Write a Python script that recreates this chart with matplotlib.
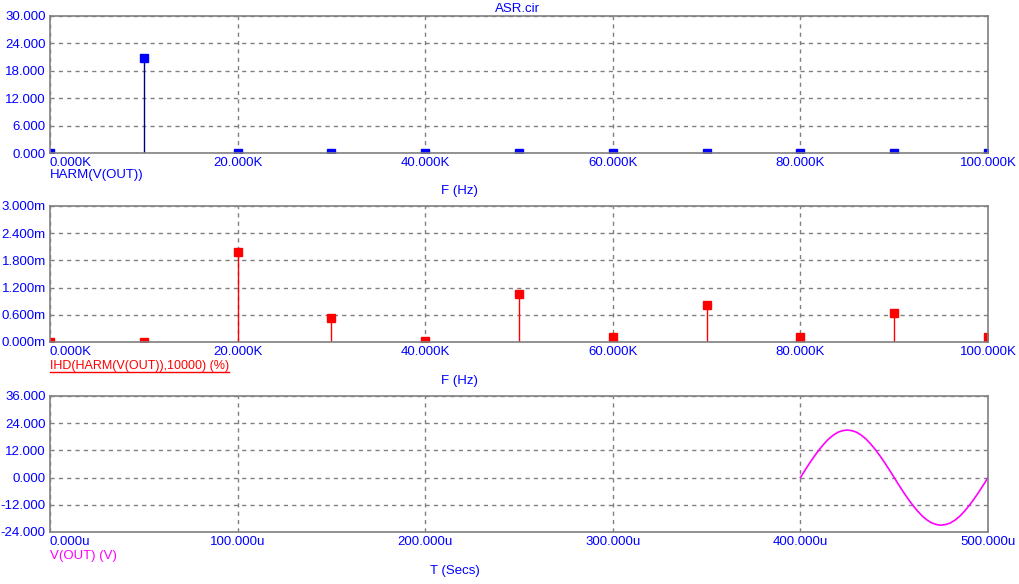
import numpy as np
import matplotlib
matplotlib.use('Agg')
import matplotlib.pyplot as plt
import matplotlib.ticker as ticker
from matplotlib.lines import Line2D

plt.rcParams['font.family'] = ['Liberation Sans', 'DejaVu Sans']
plt.rcParams['font.size'] = 9.5

# harmonic frequencies (Hz)
freq = [0, 10000, 20000, 30000, 40000, 50000, 60000, 70000, 80000, 90000, 100000]
# HARM(V(OUT))
harm = [0.0, 20.8, 0.0, 0.0, 0.0, 0.0, 0.0, 0.0, 0.0, 0.0, 0.0]
# IHD(HARM(V(OUT)),10000) (%)
ihd = [0.0, 0.0, 1.985e-3, 0.53e-3, 0.02e-3, 1.06e-3, 0.11e-3, 0.82e-3, 0.11e-3, 0.64e-3, 0.11e-3]

t_us = [400.0, 402.5, 405.0, 407.5, 410.0, 412.5, 415.0, 417.5, 420.0, 422.5,
        425.0, 427.5, 430.0, 432.5, 435.0, 437.5, 440.0, 442.5, 445.0, 447.5,
        450.0, 452.5, 455.0, 457.5, 460.0, 462.5, 465.0, 467.5, 470.0, 472.5,
        475.0, 477.5, 480.0, 482.5, 485.0, 487.5, 490.0, 492.5, 495.0, 497.5, 500.0]
vout = [0.0, 3.3, 6.5, 9.5, 12.3, 14.8, 17.0, 18.7, 20.0, 20.7,
        21.0, 20.7, 20.0, 18.7, 17.0, 14.8, 12.3, 9.5, 6.5, 3.3,
        0.0, -3.3, -6.5, -9.5, -12.3, -14.8, -17.0, -18.7, -20.0, -20.7,
        -21.0, -20.7, -20.0, -18.7, -17.0, -14.8, -12.3, -9.5, -6.5, -3.3, 0.0]

W, H = 1020, 584
fig = plt.figure(figsize=(W / 100, H / 100), dpi=100)
fig.patch.set_facecolor('white')

blue = '#0000ff'
gray = '#808080'


def px(x, y):
    return x / W, 1 - y / H


def make_ax(top, bottom):
    ax = fig.add_axes([50 / W, 1 - bottom / H, 938 / W, (bottom - top) / H])
    for s in ax.spines.values():
        s.set_color(gray)
        s.set_linewidth(1.2)
    ax.grid(True, color=gray, linestyle=(0, (3, 3)), linewidth=1)
    ax.tick_params(length=0, colors=blue, labelsize=9.5, pad=3)
    return ax


def fix_first_xlabel(ax):
    lab = ax.get_xticklabels()
    lab[0].set_horizontalalignment('left')


# top panel
ax1 = make_ax(16, 153)
ax1.vlines(freq, 0, harm, color='#000080', linewidth=1)
ax1.plot(freq, harm, 's', color=blue, markersize=5.5, clip_on=True)
ax1.set_xlim(0, 100000)
ax1.set_ylim(0, 30)
ax1.set_xticks([0, 20000, 40000, 60000, 80000, 100000])
ax1.set_yticks([0, 6, 12, 18, 24, 30])
ax1.xaxis.set_major_formatter(ticker.FuncFormatter(lambda v, p: '%.3fK' % (v / 1000)))
ax1.yaxis.set_major_formatter(ticker.FormatStrFormatter('%.3f'))
fix_first_xlabel(ax1)

# middle panel
ax2 = make_ax(206, 342)
ax2.vlines(freq, 0, ihd, color='red', linewidth=1)
ax2.plot(freq, ihd, 's', color='red', markersize=5.5, clip_on=True)
ax2.set_xlim(0, 100000)
ax2.set_ylim(0, 3e-3)
ax2.set_xticks([0, 20000, 40000, 60000, 80000, 100000])
ax2.set_yticks([0, 0.6e-3, 1.2e-3, 1.8e-3, 2.4e-3, 3e-3])
ax2.xaxis.set_major_formatter(ticker.FuncFormatter(lambda v, p: '%.3fK' % (v / 1000)))
ax2.yaxis.set_major_formatter(ticker.FuncFormatter(lambda v, p: '%.3fm' % (v * 1000)))
fix_first_xlabel(ax2)

# bottom panel
ax3 = make_ax(396, 532)
ax3.plot(t_us, vout, color='#ff00ff', linewidth=1.2)
ax3.set_xlim(0, 500)
ax3.set_ylim(-24, 36)
ax3.set_xticks([0, 100, 200, 300, 400, 500])
ax3.set_yticks([-24, -12, 0, 12, 24, 36])
ax3.xaxis.set_major_formatter(ticker.FuncFormatter(lambda v, p: '%.3fu' % v))
ax3.yaxis.set_major_formatter(ticker.FormatStrFormatter('%.3f'))
fix_first_xlabel(ax3)

# texts
fig.text(*px(517, 9), 'ASR.cir', color=blue, ha='center', va='center', fontsize=9.5)
fig.text(*px(50, 175), 'HARM(V(OUT))', color=blue, ha='left', va='center', fontsize=9.5)
fig.text(*px(459, 191), 'F (Hz)', color=blue, ha='center', va='center', fontsize=9.5)
red_lab = fig.text(*px(50, 366), 'IHD(HARM(V(OUT)),10000) (%)', color='red',
                   ha='left', va='center', fontsize=9)
fig.text(*px(459, 381), 'F (Hz)', color=blue, ha='center', va='center', fontsize=9.5)
fig.text(*px(50, 556), 'V(OUT) (V)', color='#ff00ff', ha='left', va='center', fontsize=9.5)
fig.text(*px(455, 571), 'T (Secs)', color=blue, ha='center', va='center', fontsize=9.5)

# underline for the red label
fig.canvas.draw()
bb = red_lab.get_window_extent()
x0, x1 = bb.x0 / W, bb.x1 / W
yl = 1 - 372 / H
fig.add_artist(Line2D([x0, x1], [yl, yl], color='red', linewidth=1))

fig.savefig('out.png', dpi=100, facecolor='white')
